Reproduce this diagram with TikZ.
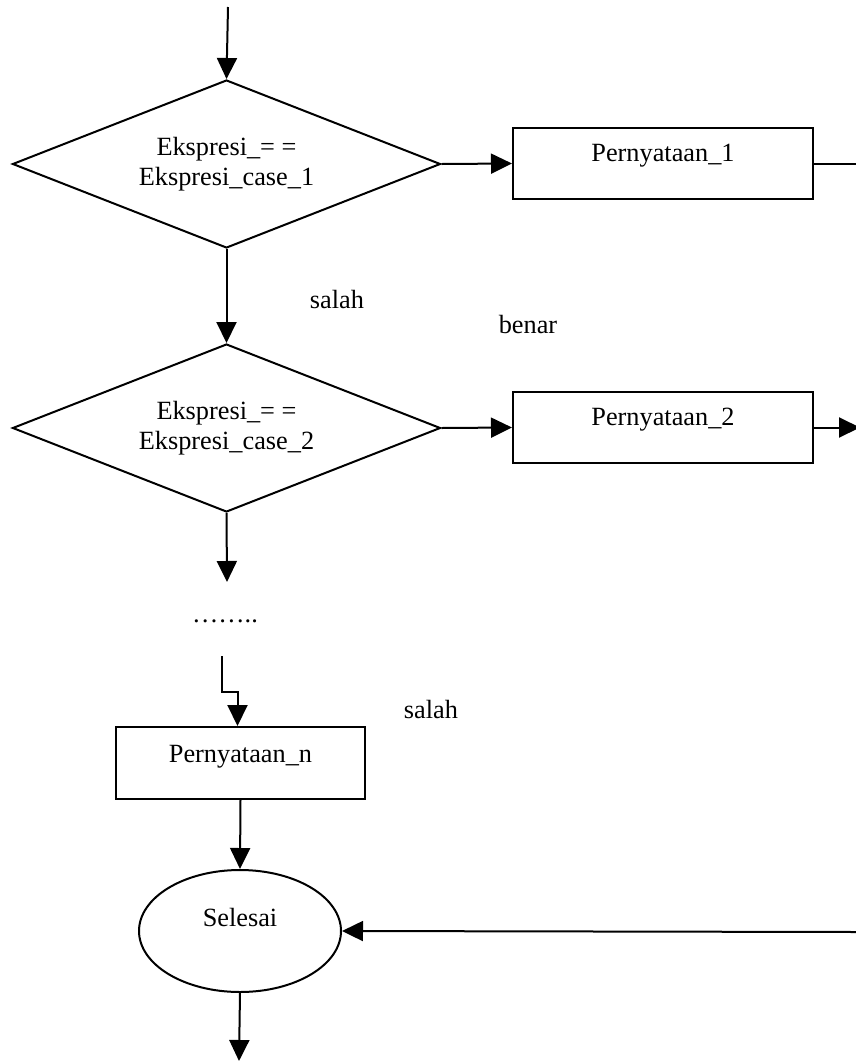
\documentclass[tikz,border=0pt]{standalone}
\usepackage{fontspec}
\setmainfont{Liberation Serif}
\usetikzlibrary{shapes.geometric,arrows.meta}
\begin{document}
\begin{tikzpicture}[x=1pt,y=-1pt,
  every node/.style={font=\fontsize{26.3}{30}\selectfont, inner sep=0pt},
  line/.style={line width=2pt},
  arr/.style={line width=2pt, -{Triangle[length=21pt,width=20pt]}},
  decision/.style={draw, line width=2pt, shape=diamond, aspect=2.55, minimum width=428pt, minimum height=168pt, align=center},
  process/.style={draw, line width=2pt, rectangle, minimum height=71pt},
  terminal/.style={draw, line width=2pt, ellipse, minimum width=202pt, minimum height=122pt},
  plain/.style={}]
\useasboundingbox (0,0) rectangle (856,1061);
\clip (0,0) rectangle (856,1061);

\node[decision] (d1) at (226.5,164) {Ekspresi\_= =\\Ekspresi\_case\_1};
\node[decision] (d2) at (226.5,428) {Ekspresi\_= =\\Ekspresi\_case\_2};
\node[process, minimum width=300pt, label={[yshift=8pt]center:Pernyataan\_1}] (p1) at (663,163.5) {};
\node[process, minimum width=300pt, label={[yshift=8pt]center:Pernyataan\_2}] (p2) at (663,427.5) {};
\node[process, minimum width=249pt, minimum height=72pt, label={[yshift=6pt]center:Pernyataan\_n}] (pn) at (240.5,763) {};
\node[terminal, label={[yshift=14pt]center:Selesai}] (sel) at (240,931) {};

\node[plain] (salah1) at (337,299) {salah};
\node[plain] (benar) at (528,324) {benar};
\node[plain] (salah2) at (431,709) {salah};
\node[plain] (dots) at (225,621) {……..};

\coordinate (top) at (228,7);
\coordinate (d2end) at (227,582);
\coordinate (dotsout) at (222,656);
\coordinate (p1out) at (857,163.5);
\coordinate (p2out) at (860,427.5);
\coordinate (selin) at (857,932);
\coordinate (selout) at (239,1061);

\draw[arr] (top) -- (d1.north);
\draw[arr] (d1.east) -- (p1.west);
\draw[line] (p1.east) -- (p1out);
\draw[arr] (d1.south) -- (d2.north);
\draw[arr] (d2.east) -- (p2.west);
\draw[arr] (p2.east) -- (p2out);
\draw[arr] (d2.south) -- (d2end);
\draw[arr] (dotsout) -- ++(0,36) -| ([xshift=-3pt]pn.north);
\draw[arr] (pn.south) -- (sel.north);
\draw[arr] (selin) -- (sel.east);
\draw[arr] (sel.south) -- (selout);
\end{tikzpicture}
\end{document}
